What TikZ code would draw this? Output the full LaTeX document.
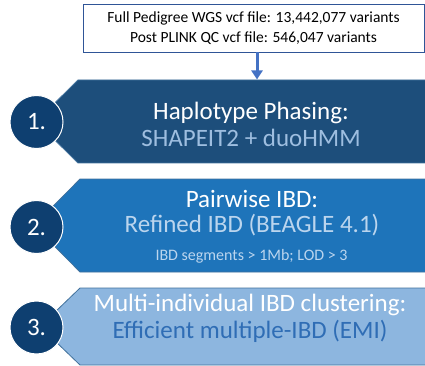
\documentclass[tikz,border=0pt]{standalone}
\usepackage{fontspec}
\setmainfont{Carlito}
\usetikzlibrary{arrows.meta}
\definecolor{bOne}{HTML}{1D4E7B}
\definecolor{bTwo}{HTML}{1E74BA}
\definecolor{bThree}{HTML}{8DB6DF}
\definecolor{circ}{HTML}{0E3F70}
\definecolor{edge}{HTML}{41719C}
\definecolor{tOne}{HTML}{9EBEE0}
\definecolor{tTwo}{HTML}{BBD5EE}
\definecolor{tThree}{HTML}{2F6DB5}
\definecolor{boxedge}{HTML}{2F5597}
\definecolor{arr}{HTML}{4472C4}
\tikzset{
  banner/.style={draw=edge, line width=0.8pt},
  numcirc/.style={circle, fill=circ, draw=white, line width=1pt, minimum size=53pt, inner sep=0pt, text=white, font=\fontsize{25}{28}\selectfont},
  bigtxt/.style={align=center, inner sep=0pt, text=white, font=\fontsize{25}{27}\selectfont},
}
\begin{document}
\begin{tikzpicture}[x=1pt,y=-1pt]
\useasboundingbox (0,0) rectangle (425,366);
% top box
\node[draw=boxedge, line width=0.8pt, minimum width=341pt, minimum height=48pt, inner sep=0pt, align=center,
  font=\fontsize{15.5}{20}\selectfont] (box) at (253.5,28)
  {Full Pedigree WGS vcf file: 13,442,077 variants\\Post PLINK QC vcf file: 546,047 variants};
% banners
\fill[bOne] (78,80) -- (427,80) -- (427,163) -- (78,163) -- (36,121.5) -- cycle;
\draw[banner] (427,80) -- (78,80) -- (36,121.5) -- (78,163) -- (427,163);
\fill[bTwo] (80,179) -- (427,179) -- (427,272) -- (80,272) -- (34,225.5) -- cycle;
\draw[banner] (427,179) -- (80,179) -- (34,225.5) -- (80,272) -- (427,272);
\fill[bThree] (80,288) -- (427,288) -- (427,365) -- (80,365) -- (40,326.5) -- cycle;
\draw[banner] (427,288) -- (80,288) -- (40,326.5) -- (80,365) -- (427,365);
\coordinate (b1top) at (257,79.5);
\draw[arr, line width=3pt, -{Triangle[length=9pt,width=11pt]}] (box.south -| b1top) -- (b1top);
% circles
\node[numcirc] (c1) at (36.5,122) {1.};
\node[numcirc] (c2) at (36.5,227) {2.};
\node[numcirc] (c3) at (36.5,327.5) {3.};
% texts
\node[bigtxt] (t1) at (251,124) {Haplotype Phasing:\\ \textcolor{tOne}{SHAPEIT2 + duoHMM}};
\node[bigtxt, font=\fontsize{25}{25}\selectfont] (t2) at (252,213) {Pairwise IBD:\\ \textcolor{tTwo}{Refined IBD (BEAGLE 4.1)}};
\node[inner sep=0pt, text=tTwo, font=\fontsize{16}{18}\selectfont] (t2b) at (251.5,256) {IBD segments > 1Mb; LOD > 3};
\node[bigtxt] (t3) at (250,318) {Multi-individual IBD clustering:\\ \textcolor{tThree}{Efficient multiple-IBD (EMI)}};
\end{tikzpicture}
\end{document}
